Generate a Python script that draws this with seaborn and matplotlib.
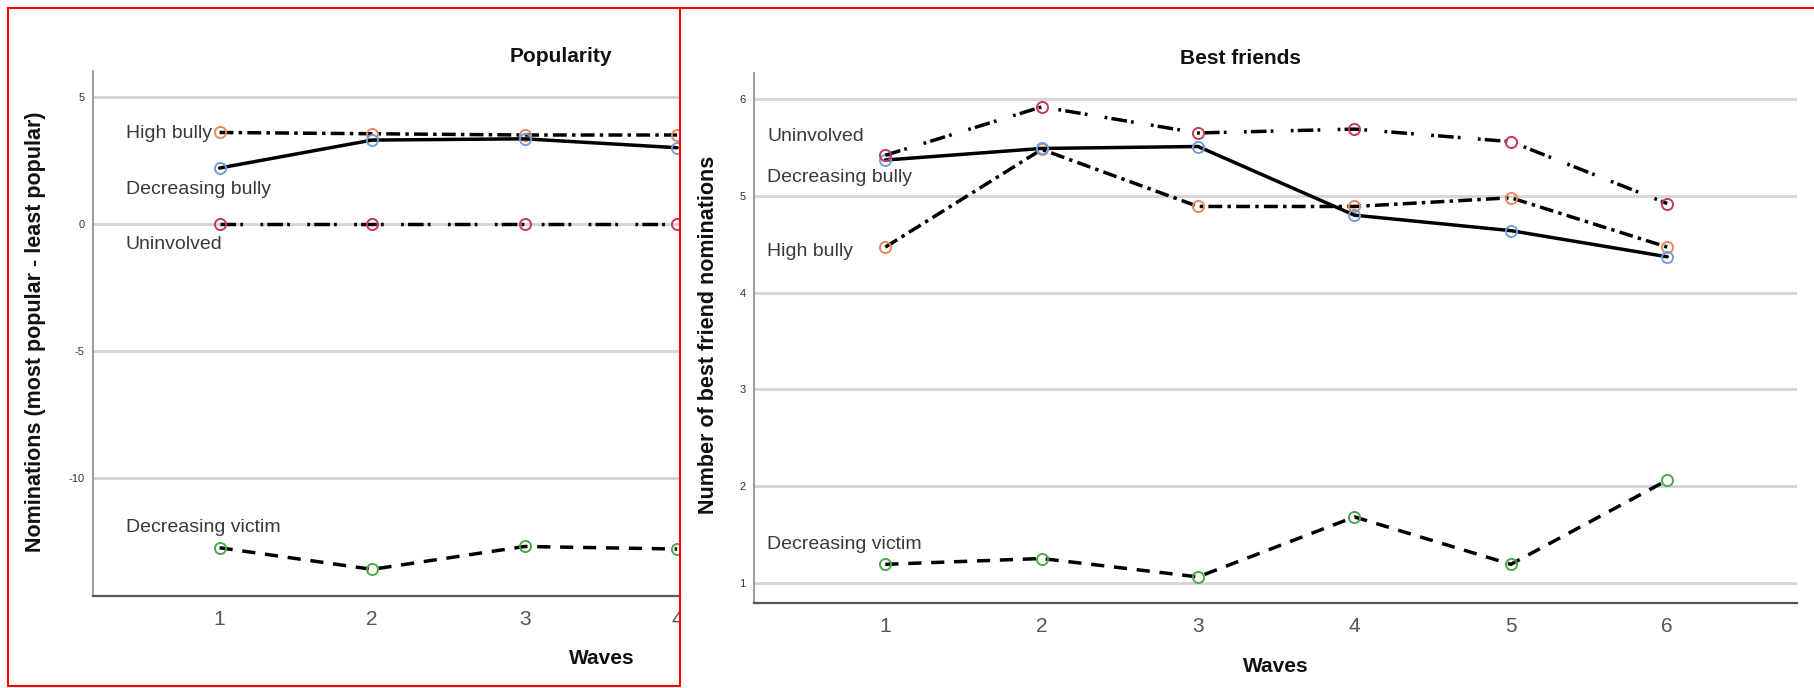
import matplotlib
matplotlib.use("Agg")
import matplotlib.pyplot as plt
import matplotlib.transforms as mtransforms
from matplotlib.lines import Line2D
import seaborn as sns
import pandas as pd

# ---- data ----
groups = ["High bully", "Decreasing bully", "Uninvolved", "Decreasing victim"]
colors = {"High bully": "#E8895E", "Decreasing bully": "#6E9FD8",
          "Uninvolved": "#C8385E", "Decreasing victim": "#4CA84C"}

pop_waves = [1, 2, 3, 4]
pop_high_bully = [3.6, 3.55, 3.5, 3.5]
pop_decr_bully = [2.2, 3.3, 3.35, 3.0]
pop_uninvolved = [0.0, 0.0, 0.0, 0.0]
pop_decr_victim = [-12.75, -13.6, -12.7, -12.8]

bf_waves = [1, 2, 3, 4, 5, 6]
bf_high_bully = [4.47, 5.48, 4.89, 4.89, 4.98, 4.47]
bf_decr_bully = [5.37, 5.49, 5.51, 4.80, 4.64, 4.37]
bf_uninvolved = [5.42, 5.92, 5.65, 5.69, 5.56, 4.92]
bf_decr_victim = [1.19, 1.25, 1.06, 1.68, 1.19, 2.06]

pop_label_y = {"High bully": 3.57, "Decreasing bully": 1.37,
               "Uninvolved": -0.8, "Decreasing victim": -11.96}
bf_label_y = {"Uninvolved": 5.61, "Decreasing bully": 5.19,
              "High bully": 4.42, "Decreasing victim": 1.40}

line_styles = {
    "High bully": (0, (4, 1.5, 1, 1.5)),
    "Decreasing bully": "-",
    "Uninvolved": (0, (4.5, 1.2, 0.8, 5, 0.8, 1.2)),
    "Decreasing victim": (0, (3.8, 2.8)),
}

pop = pd.DataFrame({"wave": pop_waves * 4,
                    "value": pop_high_bully + pop_decr_bully + pop_uninvolved + pop_decr_victim,
                    "group": [g for g in groups for _ in pop_waves]})
bf = pd.DataFrame({"wave": bf_waves * 4,
                   "value": bf_high_bully + bf_decr_bully + bf_uninvolved + bf_decr_victim,
                   "group": [g for g in groups for _ in bf_waves]})

sns.set_style("white")
plt.rcParams["font.family"] = ["Liberation Sans", "DejaVu Sans"]
plt.rcParams["axes.unicode_minus"] = False

W, H = 1814, 688
fig = plt.figure(figsize=(W / 100, H / 100), dpi=100)


def px_axes(x0, y0, x1, y1):
    # pixel box (top-left origin) -> figure axes
    return fig.add_axes([x0 / W, 1 - y1 / H, (x1 - x0) / W, (y1 - y0) / H])


def draw_panel(ax, df, label_y, label_x):
    for g in groups:
        sub = df[df["group"] == g]
        sns.lineplot(data=sub, x="wave", y="value", ax=ax, color="black",
                     linewidth=2.5, linestyle=line_styles[g], marker="o",
                     markersize=8, markerfacecolor="none",
                     markeredgecolor=colors[g], markeredgewidth=1.4,
                     zorder=3, clip_on=True)
        ax.text(label_x, label_y[g], g, ha="left", va="center",
                fontsize=14, color="#3a3a3a")
    ax.grid(axis="y", color="#d4d4d4", linewidth=2)
    ax.set_axisbelow(True)
    for s in ["top", "right"]:
        ax.spines[s].set_visible(False)
    ax.spines["left"].set_color("#8a8a8a")
    ax.spines["left"].set_linewidth(1.2)
    ax.spines["bottom"].set_color("#555555")
    ax.spines["bottom"].set_linewidth(1.6)
    ax.tick_params(axis="y", length=0, labelsize=8, labelcolor="#333333", pad=6)
    ax.tick_params(axis="x", length=0, labelsize=15, labelcolor="#555555", pad=10)
    ax.set_xlabel("")
    ax.set_ylabel("")


# ---- left panel: Popularity (cropped at wave 4) ----
ax1 = px_axes(93, 71, 680, 596)
draw_panel(ax1, pop, pop_label_y, 0.384)
ax1.set_xlim(0.17, 0.17 + (680 - 93) / 152.5)
ax1.set_ylim(-14.65, 6.02)
ax1.set_yticks([5, 0, -5, -10])
ax1.set_xticks(pop_waves)
clip = mtransforms.TransformedBbox(mtransforms.Bbox([[0, 0], [680 / W, 1]]), fig.transFigure)
for t in ax1.get_xticklabels():
    t.set_clip_on(True)
    t.set_clip_box(clip)

fig.text(561 / W, 1 - 57 / H, "Popularity", ha="center", va="center",
         fontsize=15, fontweight="bold", color="#111111")
fig.text(602 / W, 1 - 659 / H, "Waves", ha="center", va="center",
         fontsize=15, fontweight="bold", color="#111111")
fig.text(36 / W, 1 - 332 / H, "Nominations (most popular - least popular)",
         ha="center", va="center", rotation=90, fontsize=15.5,
         fontweight="bold", color="#111111")

# ---- right panel: Best friends ----
ax2 = px_axes(754, 73, 1797, 603)
draw_panel(ax2, bf, bf_label_y, 0.245)
ax2.set_xlim(0.16, 6.83)
ax2.set_ylim(0.79, 6.27)
ax2.set_yticks([1, 2, 3, 4, 5, 6])
ax2.set_xticks(bf_waves)

fig.text(1241 / W, 1 - 58 / H, "Best friends", ha="center", va="center",
         fontsize=15, fontweight="bold", color="#111111")
fig.text(1276 / W, 1 - 667 / H, "Waves", ha="center", va="center",
         fontsize=15, fontweight="bold", color="#111111")
fig.text(708 / W, 1 - 335 / H, "Number of best friend nominations",
         ha="center", va="center", rotation=90, fontsize=15.5,
         fontweight="bold", color="#111111")

# ---- red frames ----
def px_line(xs, ys):
    fig.add_artist(Line2D([x / W for x in xs], [1 - y / H for y in ys],
                          color="#ff0000", linewidth=1.5))

px_line([8, 680, 680, 8, 8], [8, 8, 686, 686, 8])
px_line([680, 1814], [8, 8])

fig.savefig("out.png", dpi=100, facecolor="white")
